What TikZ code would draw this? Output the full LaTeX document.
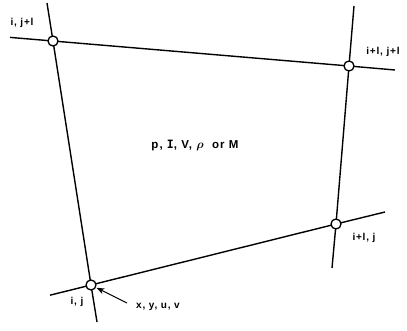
\documentclass[tikz,border=0pt]{standalone}
\usepackage{amsmath}
\usepackage{bm}
\usepackage{fontspec}
\setmainfont{Liberation Sans}
\newfontfamily\monoI{DejaVu Sans Mono}
\usetikzlibrary{arrows.meta}
\tikzset{
  grid/.style={line width=1.4pt},
  vtx/.style={circle, draw, fill=white, line width=1.3pt, minimum size=10pt, inner sep=0pt},
  lab/.style={font=\fontsize{10}{11}\selectfont\bfseries\addfontfeature{LetterSpace=8}, inner sep=0pt},
  ptr/.style={line width=1.1pt, -{Stealth[length=8pt,width=6pt]}, shorten >=0.5pt}
}
\begin{document}
\begin{tikzpicture}[x=1pt,y=-1pt]
\useasboundingbox (0,0) rectangle (407,331);
% vertex positions
\coordinate (A) at (53,41);
\coordinate (B) at (349,66);
\coordinate (C) at (336,224);
\coordinate (D) at (91,285);
% line ends
\coordinate (tl) at (10,37.4);
\coordinate (tr) at (395,70);
\coordinate (lt) at (47,3);
\coordinate (lb) at (97,322);
\coordinate (rt) at (354,6);
\coordinate (rb) at (332,268);
\coordinate (bl) at (50,295.2);
\coordinate (br) at (385,212);
\draw[grid] (tl) -- (A) -- (B) -- (tr);
\draw[grid] (lt) -- (A) -- (D) -- (lb);
\draw[grid] (rt) -- (B) -- (C) -- (rb);
\draw[grid] (bl) -- (D) -- (C) -- (br);
\node[vtx] (a) at (A) {};
\node[vtx] (b) at (B) {};
\node[vtx] (c) at (C) {};
\node[vtx] (d) at (D) {};
% labels
\node[lab] (la) at (22,23) {i, j+l};
\node[lab] (lb2) at (383,52) {i+l, j+l};
\node[lab] (lc) at (364,238) {i+l, j};
\node[lab] (ld) at (77,302) {i, j};
\node[lab, anchor=west] (lx) at (136,307) {x, y, u, v};
\node[font=\fontsize{11.5}{12}\selectfont\bfseries\addfontfeature{LetterSpace=9}, inner sep=0pt] (lm) at (195,146) {p, {\monoI\bfseries I}, V, $\bm{\rho}$\ \ or M};
\coordinate (tail) at (127,303);
\draw[ptr] (tail) -- (d);
\end{tikzpicture}
\end{document}
